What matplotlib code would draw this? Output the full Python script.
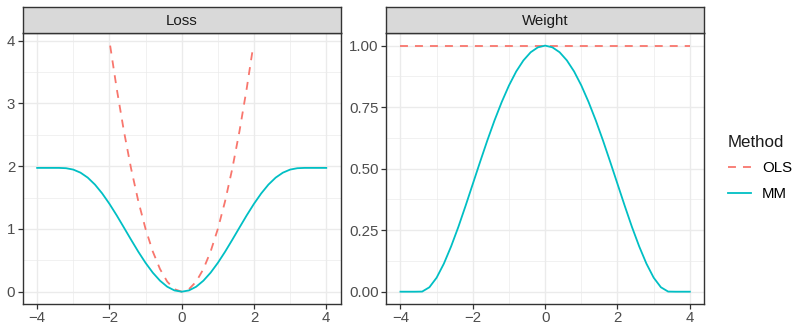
import matplotlib
matplotlib.use("Agg")
import matplotlib.pyplot as plt
from matplotlib.ticker import FixedLocator

plt.rcParams['font.family'] = ['Liberation Sans', 'DejaVu Sans']

# residual grid shared by the MM curves
x_mm = [-4.0, -3.8, -3.6, -3.4, -3.2, -3.0, -2.8, -2.6, -2.4, -2.2, -2.0,
        -1.8, -1.6, -1.4, -1.2, -1.0, -0.8, -0.6, -0.4, -0.2, 0.0,
        0.2, 0.4, 0.6, 0.8, 1.0, 1.2, 1.4, 1.6, 1.8, 2.0,
        2.2, 2.4, 2.6, 2.8, 3.0, 3.2, 3.4, 3.6, 3.8, 4.0]

loss_mm = [1.972, 1.972, 1.972, 1.972, 1.967, 1.945, 1.896, 1.817, 1.706, 1.565, 1.400,
           1.217, 1.023, 0.827, 0.636, 0.459, 0.303, 0.175, 0.079, 0.020, 0.000,
           0.020, 0.079, 0.175, 0.303, 0.459, 0.636, 0.827, 1.023, 1.217, 1.400,
           1.565, 1.706, 1.817, 1.896, 1.945, 1.967, 1.972, 1.972, 1.972, 1.972]

weight_mm = [0.000, 0.000, 0.000, 0.0005, 0.018, 0.057, 0.114, 0.184, 0.263, 0.349, 0.438,
             0.527, 0.614, 0.696, 0.771, 0.838, 0.895, 0.940, 0.973, 0.993, 1.000,
             0.993, 0.973, 0.940, 0.895, 0.838, 0.771, 0.696, 0.614, 0.527, 0.438,
             0.349, 0.263, 0.184, 0.114, 0.057, 0.018, 0.0005, 0.000, 0.000, 0.000]

# OLS loss only shown inside |x| < 2
x_ols_loss = [-1.98, -1.8, -1.6, -1.4, -1.2, -1.0, -0.8, -0.6, -0.4, -0.2, 0.0,
              0.2, 0.4, 0.6, 0.8, 1.0, 1.2, 1.4, 1.6, 1.8, 1.96]
loss_ols = [3.92, 3.24, 2.56, 1.96, 1.44, 1.00, 0.64, 0.36, 0.16, 0.04, 0.00,
            0.04, 0.16, 0.36, 0.64, 1.00, 1.44, 1.96, 2.56, 3.24, 3.84]

x_ols_weight = [-4.0, 4.0]
weight_ols = [1.0, 1.0]

C_OLS = '#F8766D'
C_MM = '#00BFC4'
GRID = '#EBEBEB'
BORDER = '#333333'
TXT = '#4D4D4D'
LW = 1.3
DASH = (4.4, 3.9)

W, H = 810, 334
fig = plt.figure(figsize=(W / 100, H / 100), dpi=100)


def px_axes(x0, x1, ytop, ybot):
    return fig.add_axes([x0 / W, (H - ybot) / H, (x1 - x0) / W, (ybot - ytop) / H])


def style_panel(ax, title, ylim, ymaj, ymin, yfmt):
    ax.set_xlim(-4.4, 4.4)
    ax.set_ylim(*ylim)
    ax.xaxis.set_major_locator(FixedLocator([-4, -2, 0, 2, 4]))
    ax.xaxis.set_minor_locator(FixedLocator([-3, -1, 1, 3]))
    ax.yaxis.set_major_locator(FixedLocator(ymaj))
    ax.yaxis.set_minor_locator(FixedLocator(ymin))
    ax.set_yticklabels([yfmt.format(v) for v in ymaj])
    ax.grid(True, which='major', color=GRID, lw=1.0)
    ax.grid(True, which='minor', color=GRID, lw=0.5)
    ax.set_axisbelow(True)
    ax.tick_params(which='major', direction='out', length=3.4, width=0.9,
                   color=BORDER, labelcolor=TXT, labelsize=10.8, pad=2)
    ax.tick_params(which='minor', length=0)
    for s in ax.spines.values():
        s.set_color(BORDER)
        s.set_linewidth(1.0)
    # facet strip
    pos = ax.get_position()
    strip = fig.add_axes([pos.x0, pos.y1, pos.width, 26 / H])
    strip.set_facecolor('#D9D9D9')
    strip.set_xticks([])
    strip.set_yticks([])
    for s in strip.spines.values():
        s.set_color(BORDER)
        s.set_linewidth(1.0)
    strip.text(0.5, 0.46, title, ha='center', va='center', fontsize=10.8,
               color='#1A1A1A', transform=strip.transAxes)


ax1 = px_axes(22.7, 340.7, 33.3, 304)
ax2 = px_axes(386, 704.3, 33.3, 304)

ax1.plot(x_ols_loss, loss_ols, color=C_OLS, lw=LW, dashes=DASH)
ax1.plot(x_mm, loss_mm, color=C_MM, lw=LW)
style_panel(ax1, 'Loss', (-0.196, 4.116), [0, 1, 2, 3, 4], [0.5, 1.5, 2.5, 3.5], '{:g}')

l_ols, = ax2.plot(x_ols_weight, weight_ols, color=C_OLS, lw=LW, dashes=DASH)
l_mm, = ax2.plot(x_mm, weight_mm, color=C_MM, lw=LW)
style_panel(ax2, 'Weight', (-0.05, 1.05), [0, 0.25, 0.5, 0.75, 1.0],
            [0.125, 0.375, 0.625, 0.875], '{:.2f}')

leg = fig.legend([l_ols, l_mm], ['OLS', 'MM'], title='Method',
                 loc='center left', bbox_to_anchor=(720 / W, 1 - 168 / H),
                 frameon=False, fontsize=10.8, title_fontsize=12.2, borderpad=0,
                 handlelength=1.56, handletextpad=0.75, labelspacing=0.75)
leg._legend_box.align = 'left'
leg.get_title().set_color('#1A1A1A')

fig.savefig('out.png', dpi=100)
